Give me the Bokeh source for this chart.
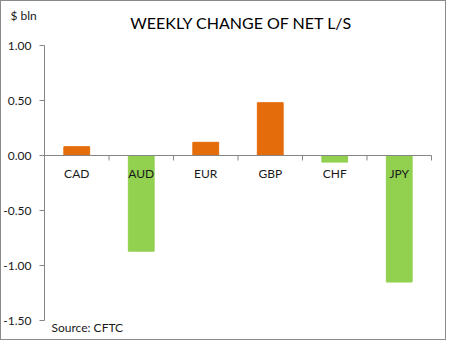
from bokeh.plotting import figure
from bokeh.models import Range1d, ColumnDataSource, Label
from bokeh.core.properties import value
from bokeh.embed import file_html
from bokeh.resources import INLINE

# ---- data ----
currencies = ["CAD", "AUD", "EUR", "GBP", "CHF", "JPY"]
weekly_change = [0.08, -0.87, 0.12, 0.48, -0.06, -1.15]
y_ticks = [-1.5, -1.0, -0.5, 0.0, 0.5, 1.0]
title_text = "WEEKLY CHANGE OF NET L/S"
unit_text = "$ bln"
source_text = "Source: CFTC"

# ---- style ----
POS = "#E46C0A"
NEG = "#92D050"
AXIS = "#868686"
FONT = "Lato"
TXT = "#1a1a1a"
W, H = 446, 340              # canvas size (plus 1px css border)
PX_X, PX_Y = 64.5, 110.0     # pixels per category slot / per unit
LEFT, TOP = 43, 44           # plot area offsets in px

n = len(currencies)
xpos = [i + 0.5 for i in range(n)]
colors = [POS if v > 0 else NEG for v in weekly_change]
bars = ColumnDataSource(dict(x=xpos, val=weekly_change, color=colors, cat=currencies))

ymax, ymin = max(y_ticks), min(y_ticks)
x0 = -LEFT / PX_X
x1 = x0 + W / PX_X
y1 = ymax + TOP / PX_Y
y0 = y1 - H / PX_Y

p = figure(width=W, height=H, output_backend="svg", toolbar_location=None,
           x_range=Range1d(x0, x1), y_range=Range1d(y0, y1),
           x_axis_location=None, y_axis_location=None,
           min_border=0)
p.styles = {"border": "1px solid #8a8a8a"}
p.outline_line_color = None
p.grid.visible = False
p.background_fill_color = "white"
p.border_fill_color = "white"

# bars
p.vbar(x="x", top="val", width=0.4, color="color", source=bars)

# y axis line, ticks and labels
p.segment(x0=[0], y0=[ymin], x1=[0], y1=[ymax], line_color=AXIS)
yt = ColumnDataSource(dict(y=y_ticks, lab=[f"{v:.2f}" for v in y_ticks],
                           x0=[0] * len(y_ticks), x1=[-5 / PX_X] * len(y_ticks)))
p.segment(x0="x0", y0="y", x1="x1", y1="y", line_color=AXIS, source=yt)
p.text(x="x0", y="y", text="lab", source=yt, x_offset=-13,
       text_align="right", text_baseline="middle",
       text_font=value(FONT), text_font_size="12px", text_color=TXT)

# zero line with boundary ticks
p.segment(x0=[0], y0=[0], x1=[n], y1=[0], line_color=AXIS)
bt = ColumnDataSource(dict(x=list(range(n + 1)), y0=[0] * (n + 1),
                           y1=[-5 / PX_Y] * (n + 1)))
p.segment(x0="x", y0="y0", x1="x", y1="y1", line_color=AXIS, source=bt)

# category labels next to the axis
p.text(x="x", y=0, text="cat", source=bars, y_offset=18,
       text_align="center", text_baseline="middle",
       text_font=value(FONT), text_font_size="12px", text_color=TXT)

# title & notes (positions in px converted to data units)
def px(xp, yp):
    return x0 + xp / PX_X, y1 - yp / PX_Y

tx, ty = px(240, 21)
p.add_layout(Label(x=tx, y=ty, text=title_text, text_align="center",
                   text_baseline="middle", text_font=FONT,
                   text_font_size="16px", text_color="#000000"))
ux, uy = px(9, 14)
p.add_layout(Label(x=ux, y=uy, text=unit_text, text_align="left",
                   text_baseline="middle", text_font=FONT,
                   text_font_size="12px", text_color=TXT))
sx, sy = px(50, 326)
p.add_layout(Label(x=sx, y=sy, text=source_text, text_align="left",
                   text_baseline="middle", text_font=FONT,
                   text_font_size="12px", text_color=TXT))

open("out.html", "w").write(file_html(p, INLINE))
